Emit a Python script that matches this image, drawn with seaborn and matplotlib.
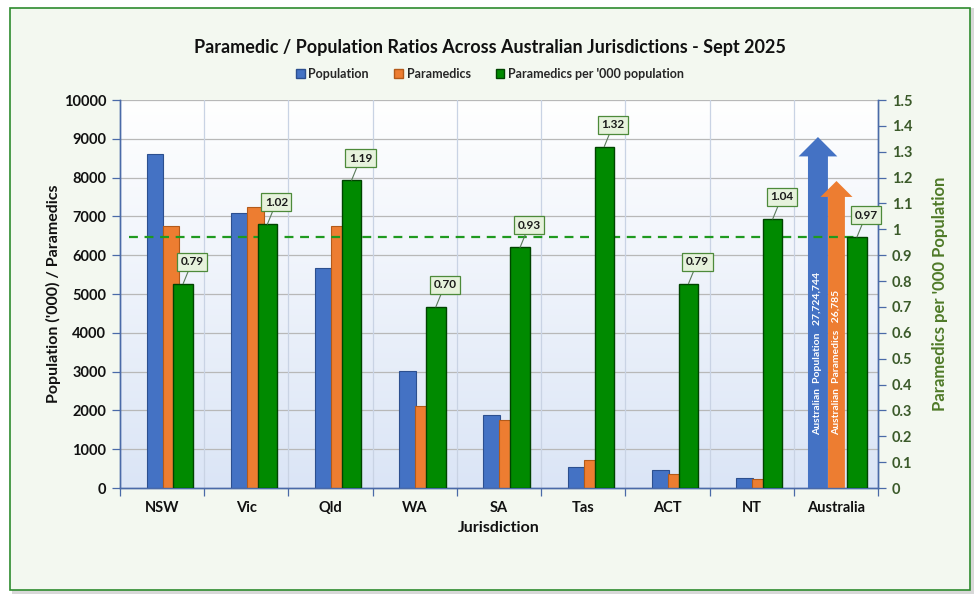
import numpy as np
import pandas as pd
import matplotlib
matplotlib.use("Agg")
import matplotlib.pyplot as plt
import seaborn as sns
from matplotlib.patches import Rectangle, Patch
from matplotlib.colors import LinearSegmentedColormap

# ---------------- data ----------------
categories = ["NSW", "Vic", "Qld", "WA", "SA", "Tas", "ACT", "NT", "Australia"]
population_k = [8600, 7080, 5680, 3020, 1890, 530, 460, 250]          # '000
paramedics = [6760, 7230, 6760, 2120, 1750, 720, 350, 240]
per_thousand = [0.79, 1.02, 1.19, 0.70, 0.93, 1.32, 0.79, 1.04, 0.97]
aus_population_text = "27,724,744"
aus_paramedics_text = "26,785"
aus_ratio = 0.97
left_ticks = list(range(0, 10001, 1000))
right_ticks = [round(i * 0.1, 1) for i in range(16)]

# ---------------- style ----------------
sns.set_theme(style="white")
plt.rcParams["font.family"] = ["Lato", "DejaVu Sans"]
plt.rcParams["font.weight"] = "bold"

BLUE = "#4472c4"
BLUE_E = "#2c4f8f"
ORANGE = "#ed7d31"
ORANGE_E = "#b35a1a"
GREEN = "#008a00"
GREEN_E = "#004400"
AXIS_C = "#4a6aa8"
BG = "#f3f8f0"

fig = plt.figure(figsize=(9.8, 6.0), dpi=100, facecolor="white")
# outer frame
fig.patches.append(Rectangle((12 / 980, 1 - 594 / 600), 962 / 980, 586 / 600,
                             transform=fig.transFigure, facecolor="#d8d8d8",
                             edgecolor="none", zorder=-3))
fig.patches.append(Rectangle((10 / 980, 1 - 590 / 600), 960 / 980, 582 / 600,
                             transform=fig.transFigure, facecolor=BG,
                             edgecolor="#2e8b2e", linewidth=1.2, zorder=-2))

ax1 = fig.add_axes([120 / 980, 1 - 488 / 600, 758 / 980, 388 / 600])
ax1.set_facecolor("none")
ax2 = ax1.twinx()

# gradient plot background
grad = np.linspace(0, 1, 256).reshape(-1, 1)
cmap = LinearSegmentedColormap.from_list("bg", ["#ffffff", "#dbe5f6"])
ax1.imshow(grad, extent=[0, 1, 0, 1], transform=ax1.transAxes, aspect="auto",
           cmap=cmap, zorder=0)

n = len(categories)
idx = np.arange(n)
BLUE_OFF, ORANGE_OFF, GREEN_OFF = -0.085, 0.105, 0.25

df_pop = pd.DataFrame({"x": idx[:8] + BLUE_OFF, "v": population_k})
df_par = pd.DataFrame({"x": idx[:8] + ORANGE_OFF, "v": paramedics})
df_rat = pd.DataFrame({"x": idx + GREEN_OFF, "v": per_thousand})

sns.barplot(data=df_pop, x="x", y="v", native_scale=True, width=0.2,
            color=BLUE, edgecolor=BLUE_E, linewidth=0.8, saturation=1,
            ax=ax1, zorder=3)
sns.barplot(data=df_par, x="x", y="v", native_scale=True, width=0.2,
            color=ORANGE, edgecolor=ORANGE_E, linewidth=0.8, saturation=1,
            ax=ax1, zorder=3)
sns.barplot(data=df_rat, x="x", y="v", native_scale=True, width=0.23,
            color=GREEN, edgecolor=GREEN_E, linewidth=1.0, saturation=1,
            ax=ax2, zorder=3)

# axes limits
ax1.set_xlim(-0.5, n - 0.5)
ax1.set_ylim(0, 10000)
ax2.set_ylim(0, 1.5)

# grid
for yv in left_ticks[1:]:
    ax1.axhline(yv, color="#b8b8b8", linewidth=0.9, zorder=1)
for xb in np.arange(0.5, n - 0.5, 1):
    ax1.axvline(xb, color="#c9d3e4", linewidth=0.9, zorder=1)

# average dashed line
ax2.axhline(aus_ratio, xmin=0.012, xmax=0.97, color="#1f9a1f", linestyle=(0, (4, 3)),
            linewidth=1.6, zorder=2)

# Australia arrows (off-scale totals)
ax1.arrow(8 - 0.213, 0, 0, 9046, width=0.237, head_width=0.46, head_length=500,
          length_includes_head=True, facecolor=BLUE, edgecolor="none", zorder=4)
ax1.arrow(8 + 0.007, 0, 0, 7912, width=0.2, head_width=0.38, head_length=410,
          length_includes_head=True, facecolor=ORANGE, edgecolor="none", zorder=4)
ax1.text(8 - 0.213, 1370, "Australian  Population   " + aus_population_text,
         rotation=90, ha="center", va="bottom", color="white", fontsize=7.5,
         fontweight="bold", zorder=5)
ax1.text(8 + 0.007, 1370, "Australian  Paramedics   " + aus_paramedics_text,
         rotation=90, ha="center", va="bottom", color="white", fontsize=7.5,
         fontweight="bold", zorder=5)

# data labels on green bars
for xi, v in zip(idx, per_thousand):
    ax2.annotate(f"{v:.2f}", xy=(xi + GREEN_OFF, v), xytext=(9, 22),
                 textcoords="offset pixels", ha="center", va="center",
                 fontsize=8.5, fontweight="bold", color="#1a1a1a",
                 bbox=dict(boxstyle="square,pad=0.3", facecolor="#e6f2dc",
                           edgecolor="#4d8a3a", linewidth=0.9),
                 arrowprops=dict(arrowstyle="-", color="#5a7a5a", linewidth=0.8,
                                 shrinkA=0, shrinkB=0),
                 zorder=6)

# ticks and spines
ax1.set_xticks(idx)
ax1.set_xticklabels(categories, fontsize=10.5, fontweight="bold", color="#111111")
ax1.set_xticks(np.arange(-0.5, n, 1), minor=True)
ax1.tick_params(axis="x", which="major", length=0, pad=9, bottom=True, labelbottom=True)
ax1.tick_params(axis="x", which="minor", length=6, color=AXIS_C, width=0.9, bottom=True)
ax2.tick_params(axis="x", which="both", bottom=False, top=False, labelbottom=False, labeltop=False)

ax1.set_yticks(left_ticks)
ax1.set_yticklabels([str(t) for t in left_ticks], fontsize=10.5, fontweight="bold",
                    color="#111111")
ax1.tick_params(axis="y", length=6, color=AXIS_C, width=0.9, left=True, pad=4)

ax2.set_yticks(right_ticks)
ax2.set_yticklabels([f"{t:g}" for t in right_ticks], fontsize=10.5,
                    fontweight="bold", color="#3b5a2a")
ax2.tick_params(axis="y", length=6, color=AXIS_C, width=0.9, right=True, pad=4)

for a in (ax1, ax2):
    a.spines["top"].set_visible(False)
    for s in ("left", "right", "bottom"):
        a.spines[s].set_color(AXIS_C)
        a.spines[s].set_linewidth(1.0)

ax1.set_xlabel("Jurisdiction", fontsize=11.5, fontweight="bold", color="#111111",
               labelpad=5)
ax2.set_xlabel("")
ax1.set_ylabel("Population ('000) / Paramedics", fontsize=11.5, fontweight="bold",
               color="#111111", labelpad=2)
ax2.set_ylabel("Paramedics per '000 Population", fontsize=12, fontweight="bold",
               color="#4f7a28", labelpad=14)

fig.text(0.5, 1 - 47 / 600, "Paramedic / Population Ratios Across Australian Jurisdictions - Sept 2025",
         ha="center", va="center", fontsize=13, fontweight="bold", color="#111111")

# legend
handles = [Patch(facecolor=BLUE, edgecolor=BLUE_E, label="Population"),
           Patch(facecolor=ORANGE, edgecolor=ORANGE_E, label="Paramedics"),
           Patch(facecolor=GREEN, edgecolor=GREEN_E, label="Paramedics per '000 population")]
fig.legend(handles=handles, loc="center", bbox_to_anchor=(0.5, 1 - 74 / 600), ncol=3,
           frameon=False, handlelength=0.7, handleheight=0.7,
           handletextpad=0.3, columnspacing=2.0,
           prop={"weight": "bold", "size": 9})

fig.savefig("out.png", dpi=100, facecolor="white")
